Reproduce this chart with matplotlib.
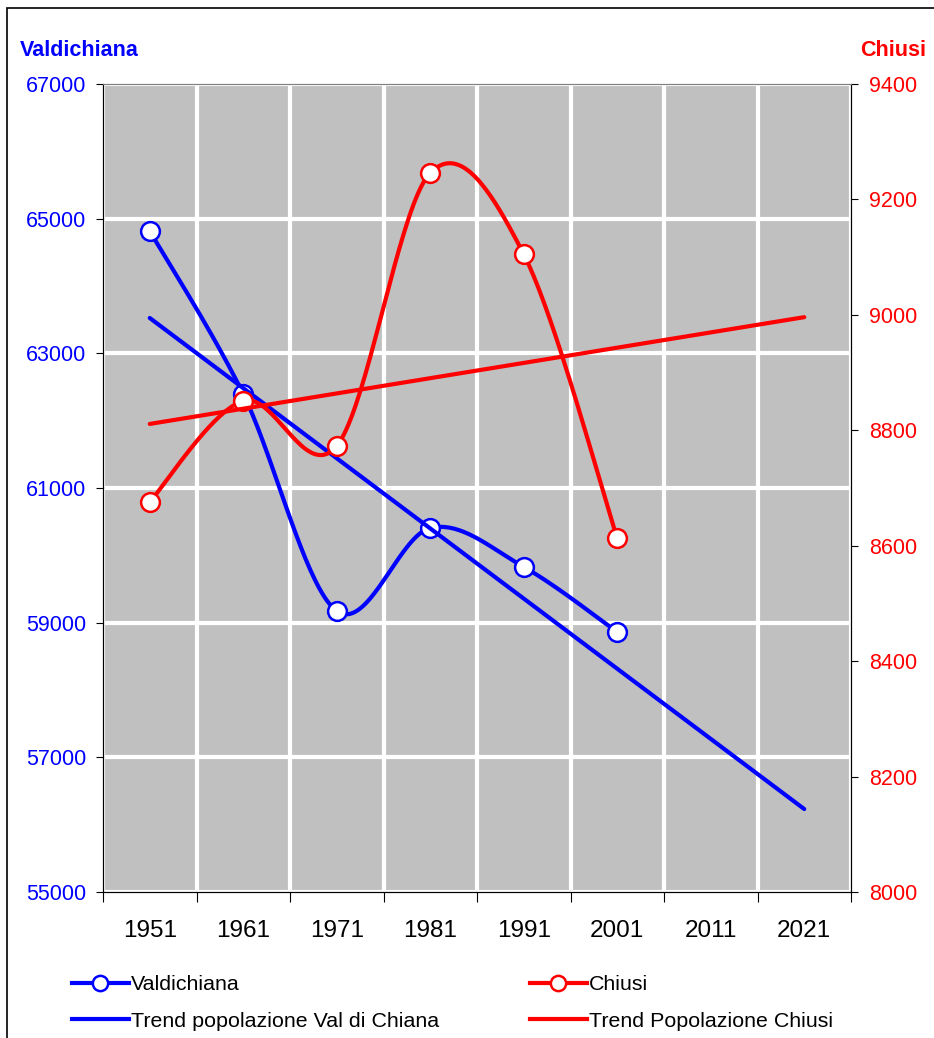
import numpy as np
import matplotlib
matplotlib.use("Agg")
import matplotlib.pyplot as plt
from matplotlib.lines import Line2D
from matplotlib.patches import Rectangle

plt.rcParams['font.family'] = ['Liberation Sans', 'DejaVu Sans']

## data
years = ["1951", "1961", "1971", "1981", "1991", "2001", "2011", "2021"]
valdichiana = [64817, 62396, 59173, 60406, 59827, 58861]
chiusi = [8676, 8851, 8773, 9246, 9105, 8613]
trend_val = [63525, 56232]      # linear trend 1951 -> 2021
trend_chiusi = [8811, 8996]

blue = "#0000FF"
red = "#FF0000"


def excel_smooth(y, n=40):
    # bezier smoothing the way Excel draws "smoothed line"
    y = np.asarray(y, float)
    x = np.arange(len(y), dtype=float)
    P = np.column_stack([x, y])
    Pe = np.vstack([P[0], P, P[-1]])
    out = []
    t = np.linspace(0, 1, n)[:, None]
    for i in range(len(y) - 1):
        p0, p1 = Pe[i + 1], Pe[i + 2]
        c1 = p0 + (Pe[i + 2] - Pe[i]) / 6
        c2 = p1 - (Pe[i + 3] - Pe[i + 1]) / 6
        seg = (1 - t)**3 * p0 + 3 * (1 - t)**2 * t * c1 + 3 * (1 - t) * t**2 * c2 + t**3 * p1
        out.append(seg if i == 0 else seg[1:])
    pts = np.vstack(out)
    return pts[:, 0], pts[:, 1]


fig = plt.figure(figsize=(9.34, 10.38), dpi=100)
ax = fig.add_axes([103/934, 1-892/1038, (851-103)/934, (892-84)/1038])
ax2 = ax.twinx()

ax.set_facecolor("#C0C0C0")
ax.set_xlim(-0.5, len(years) - 0.5)
ax.set_ylim(55000, 67000)
ax2.set_ylim(8000, 9400)

# grid
ax.set_yticks(np.arange(55000, 67001, 2000))
ax.set_xticks(np.arange(-0.5, len(years), 1))
ax.set_xticklabels([])
ax.set_xticks(np.arange(len(years)), minor=True)
ax.set_xticklabels(years, minor=True, fontsize=17.5)
ax.tick_params(axis='x', which='minor', length=0, pad=20)
ax.tick_params(axis='x', which='major', length=7, direction='out')
ax.grid(True, which='major', color='white', lw=3)
ax.set_axisbelow(True)
ax.tick_params(axis='y', colors=blue, labelsize=15.5, length=5, pad=7)
ax.tick_params(axis='y', color='black')
ax2.set_yticks(np.arange(8000, 9401, 200))
ax2.tick_params(axis='y', colors=red, labelsize=15.5, length=5, pad=8)
ax2.tick_params(axis='y', color='black')

for a in (ax, ax2):
    a.spines['top'].set_color('#808080')
    for s in ('left', 'right', 'bottom'):
        a.spines[s].set_color('black')

# Valdichiana
xs, ys = excel_smooth(valdichiana)
ax.plot(xs, ys, color=blue, lw=3, solid_capstyle='round')
ax.plot(np.arange(len(valdichiana)), valdichiana, 'o', ms=13.5, mfc='white', mec=blue, mew=1.8)
ax.plot([0, len(years) - 1], trend_val, color=blue, lw=3, solid_capstyle='round')

# Chiusi
xs, ys = excel_smooth(chiusi)
ax2.plot(xs, ys, color=red, lw=3, solid_capstyle='round')
ax2.plot(np.arange(len(chiusi)), chiusi, 'o', ms=13.5, mfc='white', mec=red, mew=1.8)
ax2.plot([0, len(years) - 1], trend_chiusi, color=red, lw=3, solid_capstyle='round')

# axis titles
fig.text(20/934, 1-50/1038, "Valdichiana", color=blue, fontsize=15.5, fontweight='bold', ha='left', va='center')
fig.text(926/934, 1-50/1038, "Chiusi", color=red, fontsize=15.5, fontweight='bold', ha='right', va='center')

# legends
def handles(color):
    return [Line2D([], [], color=color, lw=3, marker='o', ms=11, mfc='white', mec=color, mew=1.8),
            Line2D([], [], color=color, lw=3)]

leg_kw = dict(frameon=False, fontsize=15.4, handlelength=2.65, handletextpad=0.12,
              labelspacing=0.83, borderpad=0, borderaxespad=0, loc='upper left')
fig.legend(handles(blue), ["Valdichiana", "Trend popolazione Val di Chiana"],
           bbox_to_anchor=(72/934, 1-975/1038), **leg_kw)
fig.legend(handles(red), ["Chiusi", "Trend Popolazione Chiusi"],
           bbox_to_anchor=(530/934, 1-975/1038), **leg_kw)

# outer border
fig.patches.append(Rectangle((7/934, -0.1), 1.2, 1.1 - 8/1038, transform=fig.transFigure,
                             fill=False, ec='black', lw=1.2))

fig.savefig("out.png", dpi=100)
